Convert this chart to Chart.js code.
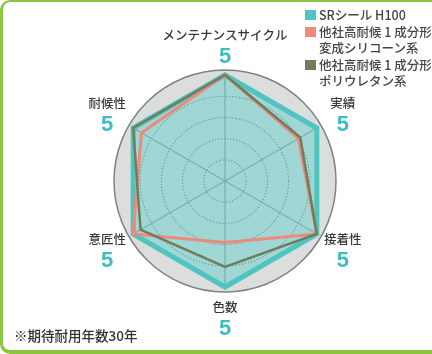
<!DOCTYPE html>
<html lang="ja">
<head>
<meta charset="utf-8">
<script src="https://cdn.jsdelivr.net/npm/chart.js@4"></script>
<style>
  html, body { margin: 0; padding: 0; background: #fff; }
  body { width: 432px; height: 354px; overflow: hidden; position: relative; font-family: "Noto Sans CJK JP", sans-serif; }
  #frame {
    position: absolute; left: 0; top: 0; width: 470px; height: 354px; box-sizing: border-box;
    border: solid #8cc63f; border-width: 2px 0 4px 3px; border-radius: 10px;
  }
  #chart { position: absolute; left: 0; top: 0; }
  #legend { position: absolute; left: 305px; top: 7px; font-size: 12.5px; font-weight: 500; color: #444; white-space: nowrap; }
  .item { position: relative; padding-left: 14px; line-height: 16px; margin-bottom: 1px; }
  .item i { position: absolute; left: 0; top: 3px; width: 11px; height: 10px; }
  #note { position: absolute; left: 14px; top: 325px; font-size: 13.5px; font-weight: 500; color: #333; }
</style>
</head>
<body>
<div id="frame"></div>
<canvas id="chart" width="432" height="354"></canvas>
<div id="legend"></div>
<div id="note">※期待耐用年数30年</div>

<script>
// categories (clockwise from top)
const labels = ["メンテナンスサイクル", "実績", "接着性", "色数", "意匠性", "耐候性"];
const ratings = ["5", "5", "5", "5", "5", "5"];

// series
const seriesNames = [
  ["SRシール H100"],
  ["他社高耐候 1 成分形", "変成シリコーン系"],
  ["他社高耐候 1 成分形", "ポリウレタン系"]
];
const srValues = [5, 5, 5, 5, 5, 5];
const siliconeValues = [5, 4.0, 5, 2.9, 5, 4.55];
const urethaneValues = [5, 4.1, 5, 4.05, 4.6, 5];

const colors = ["#4fc4c0", "#f0887b", "#6e7e5a"];

// legend
const legend = document.getElementById("legend");
seriesNames.forEach((lines, i) => {
  const div = document.createElement("div");
  div.className = "item";
  div.innerHTML = `<i style="background:${colors[i]}"></i>` + lines.join("<br>");
  legend.appendChild(div);
});

// gray disk behind the grid
const diskPlugin = {
  id: "disk",
  beforeDraw(chart) {
    const s = chart.scales.r;
    const ctx = chart.ctx;
    ctx.save();
    ctx.beginPath();
    ctx.arc(s.xCenter, s.yCenter, s.drawingArea + 5, 0, Math.PI * 2);
    ctx.fillStyle = "#dcdddd";
    ctx.fill();
    ctx.lineWidth = 1.5;
    ctx.strokeStyle = "#7d8383";
    ctx.stroke();
    ctx.restore();
  }
};

// category names + score below
const labelPlugin = {
  id: "catLabels",
  afterDraw(chart) {
    const s = chart.scales.r;
    const ctx = chart.ctx;
    ctx.save();
    ctx.textAlign = "center";
    ctx.textBaseline = "middle";
    labels.forEach((name, i) => {
      const p = s.getPointPosition(i, s.drawingArea + 30);
      ctx.font = '500 12.5px "Noto Sans CJK JP"';
      ctx.fillStyle = "#383838";
      ctx.fillText(name, p.x, p.y - 10);
      ctx.font = 'bold 22px "Liberation Sans"';
      ctx.fillStyle = "#3fbdbf";
      ctx.fillText(ratings[i], p.x, p.y + 12);
    });
    ctx.restore();
  }
};

new Chart(document.getElementById("chart"), {
  type: "radar",
  data: {
    labels: labels,
    datasets: [
      {
        label: seriesNames[0].join(""),
        data: srValues,
        borderColor: colors[0],
        backgroundColor: "rgba(120,212,206,0.6)",
        borderWidth: 5,
        fill: true,
        pointRadius: 0,
        order: 3
      },
      {
        label: seriesNames[1].join(""),
        data: siliconeValues,
        borderColor: colors[1],
        backgroundColor: "transparent",
        borderWidth: 3,
        fill: false,
        pointRadius: 0,
        order: 2
      },
      {
        label: seriesNames[2].join(""),
        data: urethaneValues,
        borderColor: colors[2],
        backgroundColor: "transparent",
        borderWidth: 2.5,
        fill: false,
        pointRadius: 0,
        order: 1
      }
    ]
  },
  options: {
    responsive: false,
    animation: false,
    layout: { padding: { left: 119, right: 101, top: 75, bottom: 67 } },
    plugins: { legend: { display: false }, tooltip: { enabled: false } },
    scales: {
      r: {
        min: 0,
        max: 5,
        ticks: { display: false, stepSize: 1 },
        pointLabels: { display: false },
        angleLines: { color: "#6f7f7f", lineWidth: 1.3 },
        grid: {
          circular: true,
          color: (c) => (c.tick && c.tick.value >= 5 ? "transparent" : "#4f5a5a"),
          lineWidth: 1.2
        },
        border: { dash: [1.3, 1.8] }
      }
    }
  },
  plugins: [diskPlugin, labelPlugin]
});
</script>
</body>
</html>
